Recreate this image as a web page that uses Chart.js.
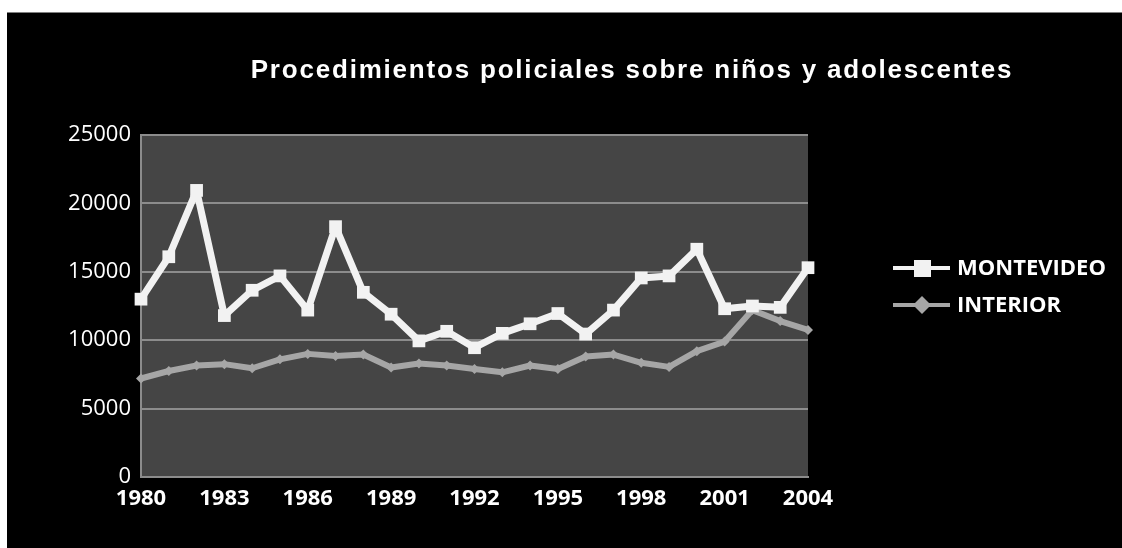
<!DOCTYPE html>
<html>
<head>
<meta charset="utf-8">
<script src="https://cdn.jsdelivr.net/npm/chart.js@4/dist/chart.umd.min.js"></script>
<style>
  html, body { margin: 0; padding: 0; background: #ffffff; }
  #wrap { width: 1122px; height: 548px; }
</style>
</head>
<body>
<div id="wrap"><canvas id="chart"></canvas></div>
<script>
const TITLE = 'Procedimientos policiales sobre niños y adolescentes';
const years = ['1980','1981','1982','1983','1984','1985','1986','1987','1988','1989','1990','1991',
               '1992','1993','1994','1995','1996','1997','1998','1999','2000','2001','2002','2003','2004'];
const montevideo = [13000, 16100, 20950, 11800, 13650, 14700, 12200, 18300, 13500, 11900, 9950, 10650,
                    9450, 10500, 11200, 11950, 10450, 12200, 14550, 14700, 16650, 12300, 12500, 12400, 15300];
const interior = [7200, 7750, 8150, 8250, 7950, 8600, 9000, 8850, 8950, 8000, 8300, 8150,
                  7900, 7650, 8150, 7900, 8800, 8950, 8350, 8050, 9200, 9900, 12200, 11400, 10750];
const seriesNames = ['MONTEVIDEO', 'INTERIOR'];
const yTicks = [0, 5000, 10000, 15000, 20000, 25000];

const WHITE = '#f2f2f2';
const GREY = '#a6a6a6';
const PLOT_BG = '#454545';
const GRID = '#8c8c8c';

// frame, plot background, title and a line+marker legend
const decorations = {
    id: 'decorations',
    beforeDraw(chart) {
        const ctx = chart.ctx;
        const a = chart.chartArea;
        ctx.save();
        ctx.fillStyle = '#ffffff';
        ctx.fillRect(0, 0, chart.width, chart.height);
        ctx.fillStyle = '#000000';
        ctx.fillRect(7, 12, chart.width - 7, chart.height - 12);
        ctx.fillStyle = '#7f7f7f';
        ctx.fillRect(7, 12, chart.width - 7, 1);
        ctx.fillStyle = PLOT_BG;
        ctx.fillRect(a.left, a.top, a.right - a.left, a.bottom - a.top);
        ctx.restore();
    },
    afterDraw(chart) {
        const ctx = chart.ctx;
        ctx.save();
        ctx.fillStyle = '#ffffff';
        ctx.font = 'bold 26px "Liberation Sans", Arial, sans-serif';
        ctx.letterSpacing = '1.8px';
        ctx.textAlign = 'center';
        ctx.textBaseline = 'middle';
        ctx.fillText(TITLE, 632, 71);
        ctx.letterSpacing = '0px';

        chart.data.datasets.forEach((ds, i) => {
            const y = 268 + i * 37;
            ctx.strokeStyle = ds.borderColor;
            ctx.lineWidth = 4;
            ctx.beginPath();
            ctx.moveTo(893, y);
            ctx.lineTo(950, y);
            ctx.stroke();
            ctx.fillStyle = ds.borderColor;
            if (ds.pointStyle === 'rect') {
                ctx.fillRect(914, y - 8, 17, 17);
            } else {
                ctx.beginPath();
                ctx.moveTo(922, y - 9);
                ctx.lineTo(931, y);
                ctx.lineTo(922, y + 9);
                ctx.lineTo(913, y);
                ctx.closePath();
                ctx.fill();
            }
            ctx.fillStyle = '#ffffff';
            ctx.font = 'bold 22px "Open Sans", sans-serif';
            ctx.textAlign = 'left';
            ctx.fillText(ds.label, 957, y + 1);
        });
        ctx.restore();
    }
};

new Chart(document.getElementById('chart'), {
    type: 'line',
    data: {
        labels: years,
        datasets: [
            {
                label: seriesNames[0],
                data: montevideo,
                borderColor: WHITE,
                backgroundColor: WHITE,
                borderWidth: 7,
                borderJoinStyle: 'round',
                pointStyle: 'rect',
                pointRadius: 9,
                pointBorderWidth: 0,
                tension: 0
            },
            {
                label: seriesNames[1],
                data: interior,
                borderColor: GREY,
                backgroundColor: GREY,
                borderWidth: 6,
                borderJoinStyle: 'round',
                pointStyle: 'rectRot',
                pointRadius: 5,
                pointBorderWidth: 0,
                tension: 0
            }
        ]
    },
    options: {
        responsive: true,
        maintainAspectRatio: false,
        animation: false,
        layout: { padding: { top: 135, right: 314, bottom: 0, left: 0 } },
        plugins: {
            legend: { display: false },
            tooltip: { enabled: false }
        },
        scales: {
            x: {
                offset: false,
                grid: { display: false, drawTicks: false },
                border: { color: GRID, width: 2 },
                afterFit: (scale) => { scale.height = 71; },
                ticks: {
                    autoSkip: false,
                    maxRotation: 0,
                    padding: 9,
                    color: '#ffffff',
                    font: { family: '"Open Sans", sans-serif', size: 22, weight: 'bold' },
                    callback: function (value, index) {
                        return index % 3 === 0 ? this.getLabelForValue(value) : '';
                    }
                }
            },
            y: {
                min: 0,
                max: 25000,
                afterBuildTicks: (scale) => { scale.ticks = yTicks.map(v => ({ value: v })); },
                afterFit: (scale) => { scale.width = 141; },
                grid: { color: GRID, lineWidth: 2, drawTicks: false },
                border: { color: GRID, width: 2 },
                ticks: {
                    padding: 10,
                    color: '#ffffff',
                    font: { family: '"Open Sans", sans-serif', size: 22 },
                    callback: (value) => String(value)
                }
            }
        }
    },
    plugins: [decorations]
});
</script>
</body>
</html>
